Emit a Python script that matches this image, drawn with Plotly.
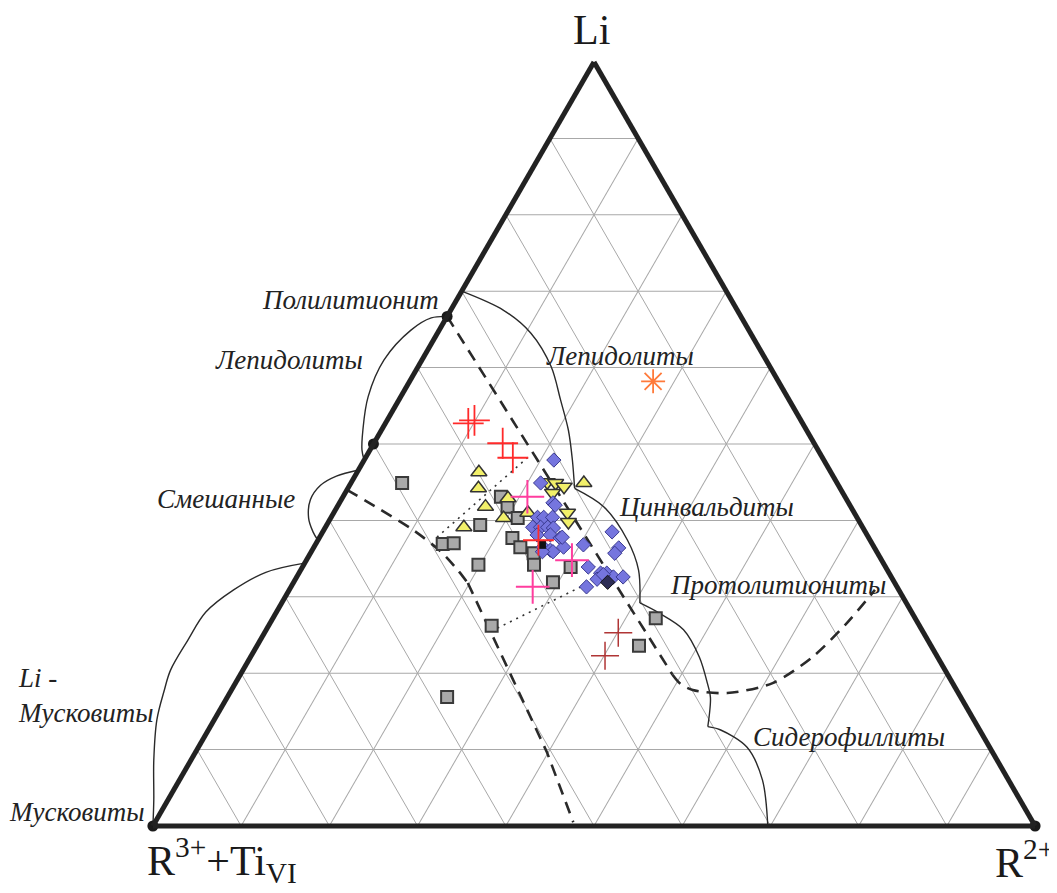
import math
import plotly.graph_objects as go

# ---------------- data (percent of Li, R2+; R3+ + Ti_VI = remainder) ----------------
# grey squares
sq_li = [44.9, 43.1, 41.8, 40.3, 39.4, 36.9, 37.0, 37.7, 36.5, 35.7, 34.2, 34.2, 33.9, 31.9, 26.2, 27.2, 23.6, 16.9]
sq_r2 = [5.8, 17.9, 19.3, 21.2, 17.4, 14.4, 15.6, 21.9, 23.4, 25.3, 19.8, 26.1, 30.4, 29.4, 25.3, 43.4, 43.3, 24.9]
# yellow triangles (apex up)
tu_li = [46.3, 44.2, 41.8, 42.9, 41.0, 40.3, 39.1, 44.9]
tu_r2 = [13.8, 14.8, 16.8, 18.8, 22.0, 19.6, 15.7, 26.4]
# yellow triangles (apex down)
td_li = [45.0, 44.9, 44.4, 43.6, 41.0, 39.8]
td_r2 = [22.2, 23.2, 24.4, 23.5, 26.5, 27.2]
# blue diamonds
dm_li = [47.9, 44.9, 42.3, 40.4, 40.4, 40.4, 39.1, 39.1, 39.1, 39.0, 38.1, 38.1, 37.7, 36.5, 36.1, 36.5,
         36.8, 38.5, 36.4, 35.7, 33.9, 33.1, 32.3, 33.1, 32.6, 32.6, 31.3, 37.8, 35.9, 35.9, 32.9, 42.0]
dm_r2 = [21.5, 21.5, 24.2, 23.4, 24.1, 25.1, 23.5, 24.4, 25.2, 25.9, 24.5, 26.0, 27.3, 26.0, 27.0, 28.3,
         30.4, 32.8, 34.6, 34.5, 32.4, 34.2, 34.2, 34.9, 35.9, 37.0, 33.5, 27.5, 27.4, 26.2, 34.6, 24.6]
# dark diamond
dk_li = [31.9]
dk_r2 = [35.6]
# red crosses
rc_li = [52.7, 53.1, 50.1, 48.2, 37.4]
rc_r2 = [9.4, 9.9, 14.6, 16.7, 25.0]
# pink crosses
pc_li = [43.1, 34.8, 31.3]
pc_r2 = [20.9, 30.1, 27.4]
# dark red crosses
bc_li = [25.3, 22.3]
bc_r2 = [40.1, 40.1]
# orange asterisk
oa_li = [58.2]
oa_r2 = [27.6]
# small black square
bs_li = [36.8]
bs_r2 = [25.7]
# end-member dots
ep_li = [0.0, 0.0, 66.7, 50.0]
ep_r2 = [0.0, 100.0, 0.0, 0.0]

# field boundaries (solid)
lep_li = [70.0, 67.5, 64.5, 60.1, 55.8, 51.8, 47.9, 44.2]
lep_r2 = [0.0, 6.0, 10.6, 15.1, 18.3, 21.2, 23.6, 25.7]
zin1_li = [44.2, 41.8, 37.4, 33.5, 29.2]
zin1_r2 = [25.7, 30.2, 35.1, 38.3, 40.6]
zin2_li = [29.2, 28.0, 25.7, 22.1, 18.7, 16.8, 13.0]
zin2_r2 = [40.6, 43.2, 47.3, 50.9, 53.5, 54.8, 56.4]
zin3_li = [13.0, 12.6, 10.3, 6.0, 0.0]
zin3_r2 = [56.4, 58.0, 62.2, 66.1, 69.7]
# dashed boundaries
dsa1_li = [66.7, 19.8]
dsa1_r2 = [0.0, 49.0]
dsa2_li = [19.8, 18.6, 17.8, 17.4, 18.7, 22.1, 26.3, 30.9]
dsa2_r2 = [49.0, 50.5, 52.3, 56.4, 60.9, 63.7, 65.3, 66.4]
dsb1_li = [44.0, 41.4, 38.7, 35.9, 33.5, 31.8]
dsb1_r2 = [0.0, 5.1, 10.2, 14.7, 17.8, 19.8]
dsb2_li = [31.8, 9.7, 0.5]
dsb2_r2 = [19.8, 39.8, 47.4]
# dotted trends
dt1_li = [37.8, 48.3]
dt1_r2 = [13.3, 18.4]
dt2_li = [25.9, 31.9]
dt2_r2 = [26.1, 33.6]
# outer arcs (outside the triangle, left side)
lo_li = [66.7, 66.5, 64.9, 61.0, 56.2, 51.8, 49.2, 47.9]
lo_r2 = [0.0, -1.7, -3.2, -4.3, -3.7, -2.1, -0.9, 0.0]
mx_li = [46.6, 45.8, 44.6, 42.7, 40.3, 38.5, 37.4]
mx_r2 = [0.0, -2.1, -3.3, -3.5, -2.5, -1.1, 0.0]
lm_li = [34.4, 33.2, 30.9, 28.0, 24.3, 20.4, 17.8, 13.9, 8.6, 3.4, 0.0]
lm_r2 = [0.0, -3.8, -6.3, -8.0, -8.2, -8.2, -7.6, -6.5, -4.2, -1.6, 0.0]

grid_step = 10


def rest(li, r2):
    return [100 - a - c for a, c in zip(li, r2)]


# ---------------- layout geometry ----------------
OFF = 8                      # page body margin
W, H = 1057 - OFF, 893 - OFF
L, R, T, B = 152 - OFF, 21, 62 - OFF, 67
PW, PH = W - L - R, H - T - B
S3 = math.sqrt(3) / 2
tri_h = PH
tri_w = tri_h / S3
if tri_w > PW:
    tri_w = PW
    tri_h = tri_w * S3
x0 = L + PW / 2 - tri_w / 2
off_l = (x0 - L) / tri_w
off_r = (L + PW - (x0 + tri_w)) / tri_w


def paper(x, y):
    # x, y given in window pixels
    return (x - OFF - L) / PW, (H - B - (y - OFF)) / PH


fig = go.Figure()


def tern(li, r2, **kw):
    fig.add_trace(go.Scatterternary(a=li, b=rest(li, r2), c=r2, hoverinfo="skip",
                                    showlegend=False, **kw))


line_c = "#2a2a2a"
solid = dict(color=line_c, width=1.4, shape="spline", smoothing=0.9)
dashed = dict(color=line_c, width=2.6, dash="12px,8px")
tern(lep_li, lep_r2, mode="lines", line=solid)
tern(zin1_li, zin1_r2, mode="lines", line=solid)
tern(zin2_li, zin2_r2, mode="lines", line=solid)
tern(zin3_li, zin3_r2, mode="lines", line=solid)
tern(dsa1_li, dsa1_r2, mode="lines", line=dashed)
tern(dsa2_li, dsa2_r2, mode="lines", line=dict(dashed, shape="spline", smoothing=0.8))
tern(dsb1_li, dsb1_r2, mode="lines", line=dict(dashed, shape="spline", smoothing=0.8))
tern(dsb2_li, dsb2_r2, mode="lines", line=dashed)
tern(dt1_li, dt1_r2, mode="lines", line=dict(color="#333", width=1.6, dash="2px,5px"))
tern(dt2_li, dt2_r2, mode="lines", line=dict(color="#333", width=1.6, dash="2px,5px"))

tern(sq_li, sq_r2, mode="markers",
     marker=dict(symbol="square", size=12, color="#a9a9a9", line=dict(color="#3a3a3a", width=2)))
tern(tu_li, tu_r2, mode="markers",
     marker=dict(symbol="triangle-up", size=14, color="#f2f06a", line=dict(color="#333", width=1.5)))
tern(td_li, td_r2, mode="markers",
     marker=dict(symbol="triangle-down", size=14, color="#f2f06a", line=dict(color="#333", width=1.5)))
tern(dm_li, dm_r2, mode="markers",
     marker=dict(symbol="diamond", size=11, color="#7575de", line=dict(color="#3a3a90", width=1)))
tern(dk_li, dk_r2, mode="markers",
     marker=dict(symbol="diamond", size=11, color="#2c2c55", line=dict(color="#111", width=1)))
tern(bs_li, bs_r2, mode="markers",
     marker=dict(symbol="square", size=8, color="#111", line=dict(color="#111", width=0)))
tern(rc_li, rc_r2, mode="markers",
     marker=dict(symbol="cross-thin", size=22, color="#ff2a2a", line=dict(color="#ff2a2a", width=1.8)))
tern(pc_li, pc_r2, mode="markers",
     marker=dict(symbol="cross-thin", size=24, color="#ff3d9e", line=dict(color="#ff3d9e", width=2)))
tern(bc_li, bc_r2, mode="markers",
     marker=dict(symbol="cross-thin", size=20, color="#b03535", line=dict(color="#b03535", width=1.5)))
tern(oa_li, oa_r2, mode="markers",
     marker=dict(symbol="asterisk-open", size=20, color="#ff7a3a", line=dict(color="#ff7a3a", width=1.8)))
tern(ep_li, ep_r2, mode="markers", cliponaxis=False,
     marker=dict(symbol="circle", size=11, color="#1a1a1a", line=dict(width=0)))


# outer arcs on an aligned cartesian overlay
def to_xy(li, r2):
    xs = [c / 100 + a / 200 for a, c in zip(li, r2)]
    ys = [a / 100 * S3 for a in li]
    return xs, ys


for li, r2 in [(lo_li, lo_r2), (mx_li, mx_r2), (lm_li, lm_r2)]:
    xs, ys = to_xy(li, r2)
    fig.add_trace(go.Scatter(x=xs, y=ys, mode="lines", line=dict(color=line_c, width=1.4, shape="spline"),
                             hoverinfo="skip", showlegend=False))

axis_common = dict(showticklabels=False, ticks="", linewidth=5, linecolor="#222",
                   showgrid=True, gridcolor="#a8a8a8", gridwidth=0.8,
                   tickmode="linear", tick0=0, dtick=grid_step, min=0, title=dict(text=""))

fig.update_layout(
    width=W, height=H,
    margin=dict(l=L, r=R, t=T, b=B, pad=0),
    paper_bgcolor="white", plot_bgcolor="rgba(0,0,0,0)",
    showlegend=False,
    ternary=dict(sum=100, bgcolor="white", domain=dict(x=[0, 1], y=[0, 1]),
                 aaxis=axis_common, baxis=axis_common, caxis=axis_common),
    xaxis=dict(visible=False, range=[-off_l, 1 + off_r], fixedrange=True),
    yaxis=dict(visible=False, range=[0, PH / tri_w], fixedrange=True),
)

lab_font = dict(family="Liberation Serif, Times New Roman, serif", size=27, color="#222")
ax_font = dict(family="Liberation Serif, Times New Roman, serif", size=42, color="#1a1a1a")

labels = [
    ("<i>Полилитионит</i>", 350, 300, "center"),
    ("<i>Лепидолиты</i>", 289, 360, "center"),
    ("<i>Лепидолиты</i>", 620, 356, "center"),
    ("<i>Смешанные</i>", 226, 499, "center"),
    ("<i>Циннвальдиты</i>", 706, 507, "center"),
    ("<i>Протолитиониты</i>", 778, 585, "center"),
    ("<i>Сидерофиллиты</i>", 849, 737, "center"),
    ("<i>Мусковиты</i>", 77, 812, "center"),
]
annotations = []
for txt, x, y, anc in labels:
    px_, py_ = paper(x, y)
    annotations.append(dict(text=txt, x=px_, y=py_, xref="paper", yref="paper", showarrow=False,
                            xanchor=anc, yanchor="middle", font=lab_font))
px_, py_ = paper(16, 695)
annotations.append(dict(text="<i>Li -</i><br><i>Мусковиты</i>", x=px_, y=py_, xref="paper", yref="paper",
                        showarrow=False, xanchor="left", yanchor="middle", align="left", font=lab_font))
for txt, x, y in [("Li", 591, 30), ("R<sup>3+</sup>+Ti<sub>VI</sub>", 222, 860), ("R<sup>2+</sup>", 1024, 860)]:
    px_, py_ = paper(x, y)
    annotations.append(dict(text=txt, x=px_, y=py_, xref="paper", yref="paper", showarrow=False,
                            xanchor="center", yanchor="middle", font=ax_font))
fig.update_layout(annotations=annotations)

fig.write_html("out.html", config={"displayModeBar": False})
